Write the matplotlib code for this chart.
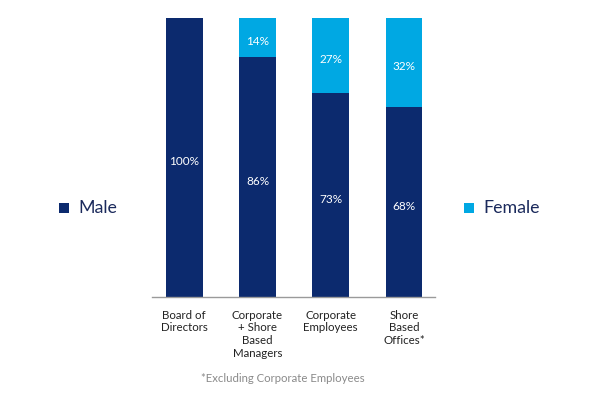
import matplotlib.pyplot as plt
from matplotlib.patches import Rectangle

# --- Data ---
categories = ["Board of\nDirectors", "Corporate\n+ Shore\nBased\nManagers",
              "Corporate\nEmployees", "Shore\nBased\nOffices*"]
male = [100, 86, 73, 68]
female = [0, 14, 27, 32]

navy = "#0c2a6e"
sky = "#00a8e3"
text_navy = "#1b2a5c"

plt.rcParams['font.family'] = ['Lato', 'DejaVu Sans']

fig = plt.figure(figsize=(5.94, 3.94), dpi=100)
ax = fig.add_axes([0.256, 0.246, 0.476, 0.708])

x = range(len(categories))
ax.bar(x, male, width=0.5, color=navy)
ax.bar(x, female, width=0.5, bottom=male, color=sky)

# value labels inside segments (nudged down a little like the original)
for i, (m, f) in enumerate(zip(male, female)):
    ax.annotate(f"{m}%", (i, m / 2), xytext=(0, -3), textcoords='offset points',
                ha='center', va='center', color='white', fontsize=8.5)
    if f > 0:
        ax.annotate(f"{f}%", (i, m + f / 2), xytext=(0, -3), textcoords='offset points',
                    ha='center', va='center', color='white', fontsize=8.5)

ax.set_xlim(-0.44, 3.42)
ax.set_ylim(0, 100)
ax.set_xticks(list(x))
ax.set_xticklabels(categories, fontsize=8.3, color="#222222", linespacing=1.2, va='top')
ax.tick_params(axis='x', length=0, pad=9)
ax.set_yticks([])
for side in ['top', 'right', 'left']:
    ax.spines[side].set_visible(False)
ax.spines['bottom'].set_color("#9a9a9a")
ax.spines['bottom'].set_linewidth(1.0)

# legend-like labels on either side
for sx, col in [(59, navy), (464, sky)]:
    fig.add_artist(Rectangle((sx / 594, 1 - 213 / 394), 10 / 594, 10 / 394,
                             transform=fig.transFigure, color=col, lw=0))
fig.text(78 / 594, 1 - 208 / 394, "Male", fontsize=12.8, color=text_navy, va='center', ha='left')
fig.text(483 / 594, 1 - 208 / 394, "Female", fontsize=12.8, color=text_navy, va='center', ha='left')

# footnote
fig.text(283 / 594, 1 - 379 / 394, "*Excluding Corporate Employees", fontsize=8.2,
         color="#8a8a8a", ha='center', va='center')

fig.savefig("out.png", dpi=100)
